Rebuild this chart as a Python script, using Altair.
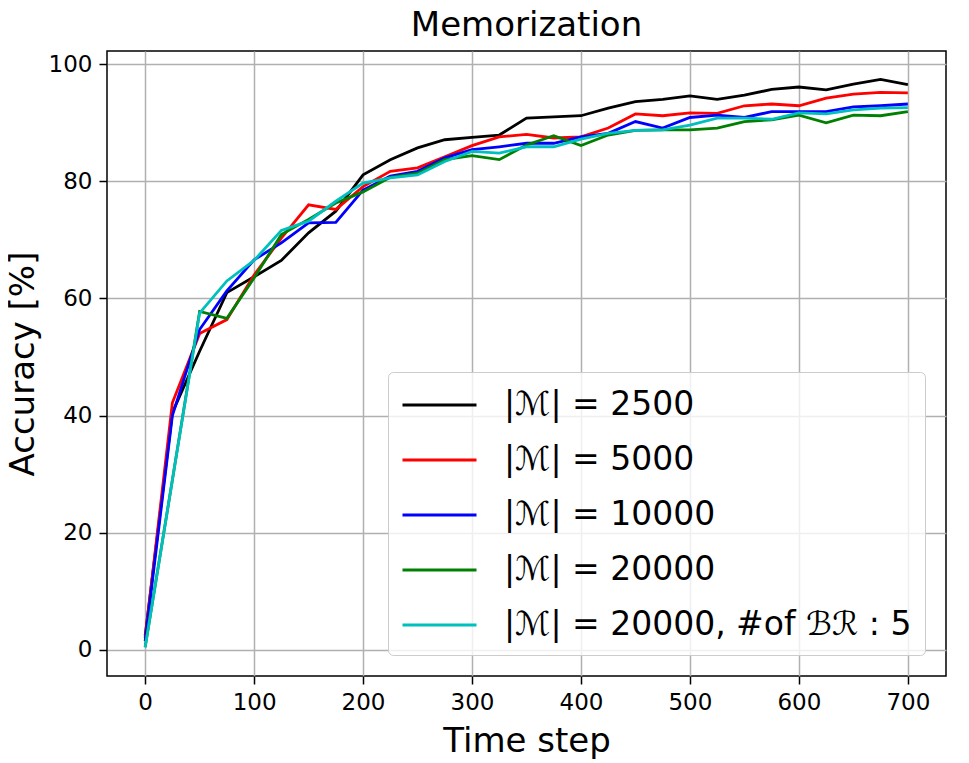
import altair as alt
import pandas as pd

steps = [0, 25, 50, 75, 100, 125, 150, 175, 200, 225, 250, 275, 300, 325, 350,
         375, 400, 425, 450, 475, 500, 525, 550, 575, 600, 625, 650, 675, 700]

m2500 = [2.4, 40.5, 51.0, 61.0, 63.7, 66.5, 71.2, 74.9, 81.1, 83.7, 85.7, 87.1, 87.5, 87.9, 90.8,
         91.0, 91.2, 92.5, 93.6, 94.0, 94.6, 94.0, 94.7, 95.7, 96.1, 95.6, 96.6, 97.4, 96.5]
m5000 = [2.0, 42.2, 54.0, 56.4, 64.0, 70.3, 76.0, 75.2, 79.1, 81.7, 82.3, 84.2, 86.1, 87.6, 88.0,
         87.4, 87.6, 89.1, 91.5, 91.2, 91.7, 91.6, 92.9, 93.2, 92.9, 94.2, 94.9, 95.2, 95.1]
m10000 = [1.5, 40.0, 54.7, 61.3, 66.6, 69.5, 72.9, 73.0, 78.5, 80.9, 81.7, 84.0, 85.4, 85.9, 86.5,
          86.5, 87.6, 88.2, 90.2, 89.1, 90.9, 91.3, 90.9, 91.9, 91.9, 91.9, 92.7, 92.9, 93.2]
m20000 = [0.5, 29.0, 57.8, 56.6, 63.5, 70.9, 73.5, 76.3, 78.2, 80.7, 81.4, 83.7, 84.4, 83.7, 86.2,
          87.8, 86.1, 87.9, 88.7, 88.8, 88.8, 89.1, 90.2, 90.5, 91.3, 90.0, 91.3, 91.2, 91.9]
m20000b5 = [0.4, 29.0, 57.5, 63.0, 66.5, 71.6, 73.2, 76.6, 79.7, 80.6, 81.1, 83.4, 85.1, 84.8, 85.9,
            85.9, 87.2, 88.2, 88.7, 88.8, 89.6, 90.8, 90.8, 90.6, 91.7, 91.5, 92.2, 92.5, 92.6]

labels = ["|ℳ| = 2500", "|ℳ| = 5000", "|ℳ| = 10000", "|ℳ| = 20000",
          "|ℳ| = 20000, #of ℬℛ : 5"]
colors = ["#000000", "#ff0000", "#0000ff", "#008000", "#00bfbf"]
series = [m2500, m5000, m10000, m20000, m20000b5]

rows = []
for i, (lab, vals) in enumerate(zip(labels, series)):
    for s, v in zip(steps, vals):
        rows.append({"step": s, "acc": v, "series": lab, "k": i})
df = pd.DataFrame(rows)

FONT = "DejaVu Sans"

chart = alt.Chart(df).mark_line(strokeWidth=2.8, clip=True).encode(
    x=alt.X("step:Q",
            scale=alt.Scale(domain=[-35, 735], nice=False, zero=False),
            axis=alt.Axis(values=[0, 100, 200, 300, 400, 500, 600, 700],
                          title="Time step", titlePadding=10)),
    y=alt.Y("acc:Q",
            scale=alt.Scale(domain=[-4.45, 102.25], nice=False, zero=False),
            axis=alt.Axis(values=[0, 20, 40, 60, 80, 100],
                          title="Accuracy [%]", titlePadding=8)),
    color=alt.Color("series:N",
                    scale=alt.Scale(domain=labels, range=colors),
                    legend=alt.Legend(title=None, orient="none",
                                      legendX=281, legendY=321,
                                      symbolType="M-1,0H3", symbolSize=1369,
                                      symbolStrokeWidth=2.8,
                                      labelFontSize=33, labelFont=FONT,
                                      labelColor="black",
                                      fillColor="rgba(255,255,255,0.8)",
                                      strokeColor="#cccccc",
                                      cornerRadius=5, padding=13,
                                      labelOffset=63, rowPadding=18,
                                      labelLimit=600)),
    order=alt.Order("k:Q"),
).properties(
    width=839, height=625,
    title=alt.TitleParams("Memorization", fontSize=34, font=FONT,
                          fontWeight="normal", color="black", offset=8),
    autosize=alt.AutoSizeParams(type="none"),
    padding={"left": 99, "top": 43, "right": 15, "bottom": 85},
).configure_view(
    stroke="black", strokeWidth=1.5
).configure_axis(
    domain=False,
    grid=True, gridColor="#b0b0b0", gridWidth=1.5,
    ticks=True, tickColor="black", tickWidth=1.5, tickSize=8,
    labelFont=FONT, labelFontSize=23, labelColor="black", labelPadding=7,
    titleFont=FONT, titleFontSize=34, titleFontWeight="normal", titleColor="black",
)

chart.save("out.html", embed_options={"renderer": "svg", "actions": False})
